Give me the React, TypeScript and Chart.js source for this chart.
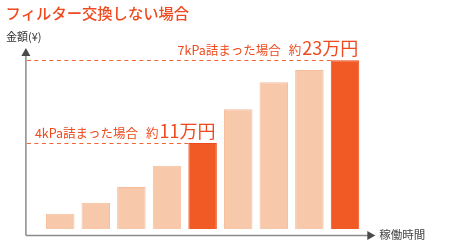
import React, { useEffect, useRef } from "react";
import { Chart, registerables } from "chart.js";

Chart.register(...registerables);

// Running periods (unlabelled steps along the time axis)
const periods = ["1", "2", "3", "4", "5", "6", "7", "8", "9"];
// Accumulated cost, in 万円
const costs = [0.7, 2.3, 4.6, 7.7, 11, 15.9, 19.8, 21.6, 23];
// Periods that carry a callout (index into periods)
const highlightIdx = [4, 8];
const calloutCase = ["4kPa詰まった場合", "7kPa詰まった場合"];
const calloutAbout = "約";
const calloutValue = ["11万円", "23万円"];

const TITLE = "フィルター交換しない場合";
const Y_LABEL = "金額(¥)";
const X_LABEL = "稼働時間";

const ORANGE = "#f15a24";
const ORANGE_EDGE = "#ec4a1c";
const PEACH = "#f7c9aa";
const PEACH_EDGE = "#f6bd9b";
const TEXT_RED = "#ef4a1f";
const AXIS_GRAY = "#8a8a8a";
const ARROW_GRAY = "#4a4a4a";
const FONT = '"Noto Sans CJK JP", "Noto Sans", sans-serif';

const overlay = {
  id: "overlay",
  afterDraw(chart: any) {
    const { ctx, chartArea } = chart;
    const y = chart.scales.y;
    const meta = chart.getDatasetMeta(0);
    const axisX = chartArea.left - 16.5;
    const axisY = chartArea.bottom + 6.5;
    const yTip = chartArea.top + 1.5;
    const xTip = chartArea.right + 12.5;

    ctx.save();
    // title and axis captions
    ctx.textBaseline = "alphabetic";
    ctx.textAlign = "left";
    ctx.fillStyle = TEXT_RED;
    ctx.font = `500 15.3px ${FONT}`;
    ctx.fillText(TITLE, 5.5, 19);
    ctx.fillStyle = "#333";
    ctx.font = `11px ${FONT}`;
    ctx.fillText(Y_LABEL, 6, 41);
    ctx.fillStyle = "#444";
    ctx.font = `11.5px ${FONT}`;
    ctx.textBaseline = "middle";
    ctx.fillText(X_LABEL, xTip + 4, axisY - 1);

    // axes
    ctx.strokeStyle = AXIS_GRAY;
    ctx.lineWidth = 1.5;
    ctx.beginPath();
    ctx.moveTo(axisX, axisY);
    ctx.lineTo(axisX, yTip + 6);
    ctx.moveTo(axisX, axisY);
    ctx.lineTo(xTip - 6, axisY);
    ctx.stroke();
    ctx.fillStyle = ARROW_GRAY;
    ctx.beginPath();
    ctx.moveTo(axisX, yTip);
    ctx.lineTo(axisX - 4.5, yTip + 8);
    ctx.lineTo(axisX + 4.5, yTip + 8);
    ctx.closePath();
    ctx.fill();
    ctx.beginPath();
    ctx.moveTo(xTip, axisY);
    ctx.lineTo(xTip - 8, axisY - 4.5);
    ctx.lineTo(xTip - 8, axisY + 4.5);
    ctx.closePath();
    ctx.fill();

    // dashed guides and callouts
    highlightIdx.forEach((idx, k) => {
      const bar = meta.data[idx];
      const py = Math.round(y.getPixelForValue(costs[idx])) + 0.5;
      const left = bar.x - bar.width / 2;
      const right = bar.x + bar.width / 2;
      ctx.strokeStyle = "#f26434";
      ctx.lineWidth = 1;
      ctx.setLineDash([4, 3.5]);
      ctx.beginPath();
      ctx.moveTo(axisX + 1, py);
      ctx.lineTo(left, py);
      ctx.stroke();
      ctx.setLineDash([]);

      ctx.textBaseline = "alphabetic";
      ctx.fillStyle = TEXT_RED;
      const small = `12.5px ${FONT}`;
      const big = `18px ${FONT}`;
      const gap = 8;
      ctx.font = small;
      const w1 = ctx.measureText(calloutCase[k]).width;
      const w2 = ctx.measureText(calloutAbout).width;
      ctx.font = big;
      const w3 = ctx.measureText(calloutValue[k]).width;
      const total = w1 + gap + w2 + 1 + w3;
      const base = py - 6;
      const startX = k === 0 ? axisX + 9 : right - total - 1;
      ctx.font = small;
      ctx.fillText(calloutCase[k], startX, base);
      ctx.fillText(calloutAbout, startX + w1 + gap, base);
      ctx.font = big;
      ctx.fillText(calloutValue[k], startX + w1 + gap + w2 + 1, base);
    });
    ctx.restore();
  },
};

export default function App() {
  const ref = useRef<HTMLCanvasElement>(null);
  useEffect(() => {
    if (!ref.current) return;
    const fill = costs.map((_, i) => (highlightIdx.includes(i) ? ORANGE : PEACH));
    const edge = costs.map((_, i) => (highlightIdx.includes(i) ? ORANGE_EDGE : PEACH_EDGE));
    const chart = new Chart(ref.current, {
      type: "bar",
      data: {
        labels: periods,
        datasets: [
          {
            data: costs,
            base: -1.5,
            backgroundColor: fill,
            borderColor: edge,
            borderWidth: 1,
            barPercentage: 0.8,
            categoryPercentage: 1,
          } as any,
        ],
      },
      options: {
        animation: false,
        responsive: false,
        devicePixelRatio: 1,
        layout: { padding: { left: 42.4, right: 97.2, top: 46.5, bottom: 21 } },
        plugins: { legend: { display: false }, tooltip: { enabled: false } },
        scales: {
          x: { display: false },
          y: { display: false, min: -1.5, max: 25 },
        },
      },
      plugins: [overlay],
    });
    return () => chart.destroy();
  }, []);
  return (
    <div style={{ position: "fixed", left: 0, top: 0, width: 460, height: 250, background: "#fff" }}>
      <canvas ref={ref} width={460} height={250} style={{ width: 460, height: 250 }} />
    </div>
  );
}
